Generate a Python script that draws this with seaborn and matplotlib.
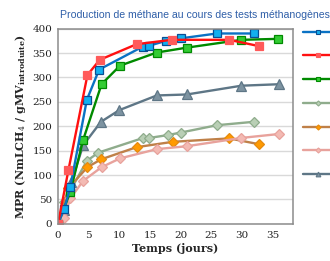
import matplotlib
matplotlib.use("Agg")
import matplotlib.pyplot as plt
import seaborn as sns
import pandas as pd
from matplotlib.lines import Line2D

# ---- data ----
blue_x = [0, 1, 2, 4.7, 6.7, 13.8, 14.9, 17.6, 20.0, 25.9, 31.9]
blue_y = [0, 30, 75, 254, 316, 363, 365, 375, 380, 390, 390]

red_x = [0, 1.7, 4.8, 6.8, 12.8, 18.5, 27.9, 32.8]
red_y = [0, 110, 305, 336, 368, 377, 377, 364]

green_x = [0, 2.0, 4.1, 7.1, 10.1, 16.1, 21.0, 29.9, 35.9]
green_y = [0, 65, 172, 286, 324, 351, 361, 377, 379]

sage_x = [0, 1.0, 4.7, 6.6, 13.9, 14.9, 18.0, 20.0, 25.9, 31.9]
sage_y = [0, 45, 129, 146, 176, 176, 182, 187, 202, 209]

orange_x = [0, 1.7, 4.8, 7.0, 12.8, 18.7, 27.9, 32.8]
orange_y = [0, 73, 116, 132, 157, 168, 175, 163]

pink_x = [0, 1.0, 2.0, 4.1, 7.1, 10.1, 16.1, 21.0, 29.9, 36.0]
pink_y = [0, 12, 52, 88, 116, 134, 153, 159, 176, 184]

slate_x = [0, 1.0, 2.2, 4.1, 7.0, 10.0, 16.1, 21.0, 29.9, 36.0]
slate_y = [0, 28, 86, 161, 209, 233, 263, 265, 283, 286]

x_ticks = [0, 5, 10, 15, 20, 25, 30, 35]
y_ticks = [0, 50, 100, 150, 200, 250, 300, 350, 400]

title = "Production de méthane au cours des tests méthanogènes"
xlabel = "Temps (jours)"
ylabel = r"MPR (NmLCH$_4$ / gMV$_{\mathbf{introduite}}$)"

# ---- styling ----
sns.set_theme(style="white")
plt.rcParams["font.family"] = ["DejaVu Serif"]
plt.rcParams["mathtext.fontset"] = "dejavuserif"

fig = plt.figure(figsize=(3.30, 2.61), dpi=100)
ax = fig.add_axes([58 / 330, 1 - 223.8 / 261, (293 - 58) / 330, (223.8 - 28.6) / 261])

series = [
    ("slate", slate_x, slate_y, "#5E7686", "^", "#7D93A1", "#5E7686", 6.8),
    ("sage", sage_x, sage_y, "#8FAC8C", "D", "#B9CFB5", "#8FAC8C", 5.2),
    ("orange", orange_x, orange_y, "#BF8048", "D", "#FF9A00", "#E58A10", 5.2),
    ("pink", pink_x, pink_y, "#E8A29C", "D", "#F3BAB3", "#E8A29C", 5.2),
    ("green", green_x, green_y, "#008A00", "s", "#33CC33", "#008A00", 5.6),
    ("blue", blue_x, blue_y, "#0A72C4", "s", "#12B0F0", "#0A4E94", 5.6),
    ("red", red_x, red_y, "#FF1010", "s", "#FF5A5A", "#FF5A5A", 5.8),
]

handles = {}
for name, xs, ys, lc, mk, fc, ec, ms in series:
    df = pd.DataFrame({"x": xs, "y": ys})
    sns.lineplot(data=df, x="x", y="y", ax=ax, color=lc, linewidth=1.7,
                 marker=mk, markersize=ms, markerfacecolor=fc,
                 markeredgecolor=ec, markeredgewidth=0.9, sort=False,
                 estimator=None, legend=False)
    handles[name] = Line2D([], [], color=lc, linewidth=1.7, marker=mk,
                           markersize=ms * 0.5, markerfacecolor=fc,
                           markeredgecolor=ec, markeredgewidth=0.8)

ax.set_xlim(0, 38.3)
ax.set_ylim(0, 400)
ax.set_xticks(x_ticks)
ax.set_yticks(y_ticks)
ax.grid(axis="y", color="#D9D9D9", linewidth=1.0)
ax.set_axisbelow(True)
for s in ax.spines.values():
    s.set_color("#8C8C8C")
    s.set_linewidth(1.1)
ax.tick_params(axis="x", length=3, width=0.8, color="#8C8C8C", labelsize=7.5, pad=2,
               labelcolor="#222222")
ax.tick_params(axis="y", length=0, labelsize=7.5, pad=4, labelcolor="#222222")

ax.set_xlabel(xlabel, fontsize=8, fontweight="bold", labelpad=2)
ax.set_ylabel(ylabel, fontsize=8, fontweight="bold", labelpad=3)

fig.text(60 / 330, 1 - 15 / 261, title, fontsize=7.6, color="#2F5FA8",
         family=["Liberation Sans", "DejaVu Sans"], va="center", ha="left")

order = ["blue", "red", "green", "sage", "orange", "pink", "slate"]
leg = fig.legend([handles[n] for n in order], [""] * len(order),
                 loc="upper left", bbox_to_anchor=(303 / 330, 1 - 28 / 261),
                 frameon=False, fontsize=7, handlelength=3.0,
                 labelspacing=1.52, borderaxespad=0, borderpad=0,
                 handletextpad=0.5)

fig.savefig("out.png", dpi=100)
